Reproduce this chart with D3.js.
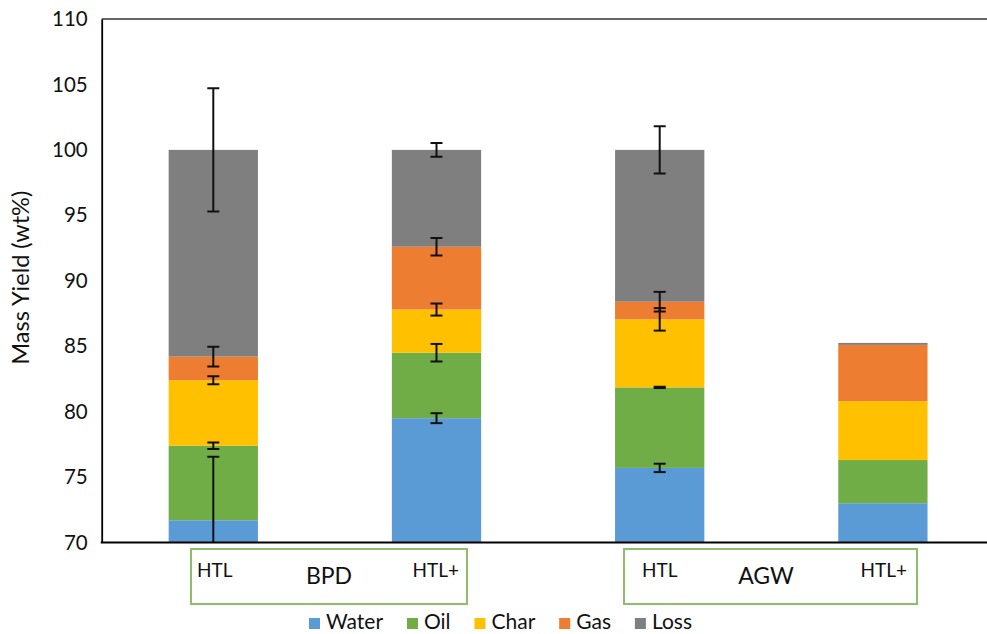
<!DOCTYPE html>
<html>
<head>
<meta charset="utf-8">
<script src="https://cdn.jsdelivr.net/npm/d3@7"></script>
<style>
  html, body { margin: 0; padding: 0; background: #fff; }
  svg { display: block; font-family: Lato, "Open Sans", sans-serif; }
</style>
</head>
<body>
<svg id="chart" width="987" height="634"></svg>
<script>
// ---- data -------------------------------------------------------------
const categories = ["BPD HTL", "BPD HTL+", "AGW HTL", "AGW HTL+"];
const seriesNames = ["Water", "Oil", "Char", "Gas", "Loss"];

// mass yield fractions (wt%), stacked per run
const water = [71.7, 79.5, 75.7, 73.0];
const oil   = [5.7, 5.0, 6.15, 3.3];
const char  = [5.0, 3.3, 5.2, 4.5];
const gas   = [1.8, 4.8, 1.35, 4.3];
const loss  = [15.8, 7.4, 11.6, 0.15];

// standard deviations (0 = not reported)
const waterErr = [4.85, 0.38, 0.32, 0];
const oilErr   = [0.25, 0.67, 0.05, 0];
const charErr  = [0.3, 0.46, 0.86, 0];
const gasErr   = [0.75, 0.67, 0.75, 0];
const lossErr  = [4.7, 0.53, 1.8, 0];

const yTicks = [70, 75, 80, 85, 90, 95, 100, 105, 110];
const runLabels = ["HTL", "HTL+", "HTL", "HTL+"];
const feedstocks = ["BPD", "AGW"];
const colors = ["#5B9BD5", "#70AD47", "#FFC000", "#ED7D31", "#7F7F7F"];

// ---- layout -----------------------------------------------------------
const W = 987, H = 634;
const plot = { left: 101.7, top: 19, bottom: 542.5, right: 994.5 };

const svg = d3.select("#chart");

const x = d3.scaleBand()
  .domain(categories)
  .range([plot.left, plot.right])
  .paddingInner(0.6)
  .paddingOuter(0.3);

const y = d3.scaleLinear().domain([70, 110]).range([plot.bottom, plot.top]);

const values = { Water: water, Oil: oil, Char: char, Gas: gas, Loss: loss };
const errors = { Water: waterErr, Oil: oilErr, Char: charErr, Gas: gasErr, Loss: lossErr };
const table = categories.map((c, i) => {
  const row = { category: c };
  seriesNames.forEach(s => row[s] = values[s][i]);
  return row;
});
const stacked = d3.stack().keys(seriesNames)(table);
const color = d3.scaleOrdinal().domain(seriesNames).range(colors);

svg.append("defs").append("clipPath").attr("id", "plotClip")
  .append("rect")
  .attr("x", plot.left).attr("y", plot.top)
  .attr("width", W - plot.left).attr("height", plot.bottom - plot.top);

const body = svg.append("g").attr("clip-path", "url(#plotClip)");

// stacked bars
body.selectAll("g.series")
  .data(stacked)
  .join("g")
  .attr("class", "series")
  .attr("fill", d => color(d.key))
  .selectAll("rect")
  .data(d => d)
  .join("rect")
  .attr("x", d => x(d.data.category))
  .attr("width", x.bandwidth())
  .attr("y", d => y(d[1]))
  .attr("height", d => y(d[0]) - y(d[1]));

// error bars at the top of each segment
const errData = [];
stacked.forEach(layer => {
  layer.forEach((d, i) => {
    const e = errors[layer.key][i];
    if (e > 0) errData.push({ cx: x(d.data.category) + x.bandwidth() / 2, top: d[1], e });
  });
});
const capHalf = 6;
const eb = body.selectAll("g.err").data(errData).join("g").attr("class", "err")
  .attr("stroke", "#111").attr("stroke-width", 2);
eb.append("line")
  .attr("x1", d => d.cx).attr("x2", d => d.cx)
  .attr("y1", d => y(d.top + d.e)).attr("y2", d => y(d.top - d.e));
eb.append("line")
  .attr("x1", d => d.cx - capHalf).attr("x2", d => d.cx + capHalf)
  .attr("y1", d => y(d.top + d.e)).attr("y2", d => y(d.top + d.e));
eb.append("line")
  .attr("x1", d => d.cx - capHalf).attr("x2", d => d.cx + capHalf)
  .attr("y1", d => y(d.top - d.e)).attr("y2", d => y(d.top - d.e));

// frame: top border, value axis, category axis
svg.append("line")
  .attr("x1", plot.left).attr("x2", W)
  .attr("y1", y(110)).attr("y2", y(110))
  .attr("stroke", "#333").attr("stroke-width", 1.5);

const yAxis = d3.axisLeft(y).tickValues(yTicks).tickSize(0).tickPadding(14);
const ya = svg.append("g").attr("transform", `translate(${plot.left},0)`).call(yAxis);
ya.select(".domain").attr("stroke", "#000").attr("stroke-width", 1.8);
ya.selectAll(".tick text")
  .attr("font-family", "Lato, sans-serif")
  .attr("font-size", 20.5)
  .attr("fill", "#111");

const xAxis = d3.axisBottom(x).tickSize(0).tickFormat("");
const xa = svg.append("g").attr("transform", `translate(0,${plot.bottom})`).call(xAxis);
xa.select(".domain").attr("stroke", "#000").attr("stroke-width", 2.2)
  .attr("d", `M${plot.left - 1},0H${W}`);

// value axis title
svg.append("text")
  .attr("transform", `translate(29,${(plot.top + plot.bottom) / 2 - 3}) rotate(-90)`)
  .attr("text-anchor", "middle")
  .attr("font-size", 23.5)
  .attr("fill", "#111")
  .text("Mass Yield (wt%)");

// feedstock group boxes below the category axis
const boxSpec = [
  { name: feedstocks[0], members: [0, 1], x0: 191, x1: 467 },
  { name: feedstocks[1], members: [2, 3], x0: 624, x1: 917 }
];
const boxTop = 549, boxBottom = 604;
boxSpec.forEach(b => {
  const g = svg.append("g");
  g.append("rect")
    .attr("x", b.x0).attr("y", boxTop)
    .attr("width", b.x1 - b.x0).attr("height", boxBottom - boxTop)
    .attr("fill", "none").attr("stroke", "#8DBF6A").attr("stroke-width", 2);
  const first = b.members[0], second = b.members[1];
  const pad = b.name === "BPD" ? 6 : 18;
  g.append("text")
    .attr("x", b.x0 + pad).attr("y", 577)
    .attr("font-size", 19).attr("fill", "#111")
    .text(runLabels[first]);
  g.append("text")
    .attr("x", b.x1 - (b.name === "BPD" ? 8 : 10)).attr("y", 577)
    .attr("text-anchor", "end")
    .attr("font-size", 19).attr("fill", "#111")
    .text(runLabels[second]);
  g.append("text")
    .attr("x", b.name === "BPD" ? 329 : 766).attr("y", 584)
    .attr("text-anchor", "middle")
    .attr("font-size", 23).attr("fill", "#111")
    .text(b.name);
});

// legend
const legend = svg.append("g");
const legendStart = 309, legendEnd = 692, sq = 11, gap = 6;
const items = seriesNames.map(s => {
  const g = legend.append("g");
  g.append("rect").attr("width", sq).attr("height", sq).attr("y", 618).attr("fill", color(s));
  const t = g.append("text").attr("x", sq + gap).attr("y", 629)
    .attr("font-size", 21).attr("fill", "#111").text(s);
  return { g, w: sq + gap + t.node().getComputedTextLength() };
});
const totalW = d3.sum(items, d => d.w);
const spacing = (legendEnd - legendStart - totalW) / (items.length - 1);
let cx = legendStart;
items.forEach(it => {
  it.g.attr("transform", `translate(${cx},0)`);
  cx += it.w + spacing;
});
</script>
</body>
</html>
